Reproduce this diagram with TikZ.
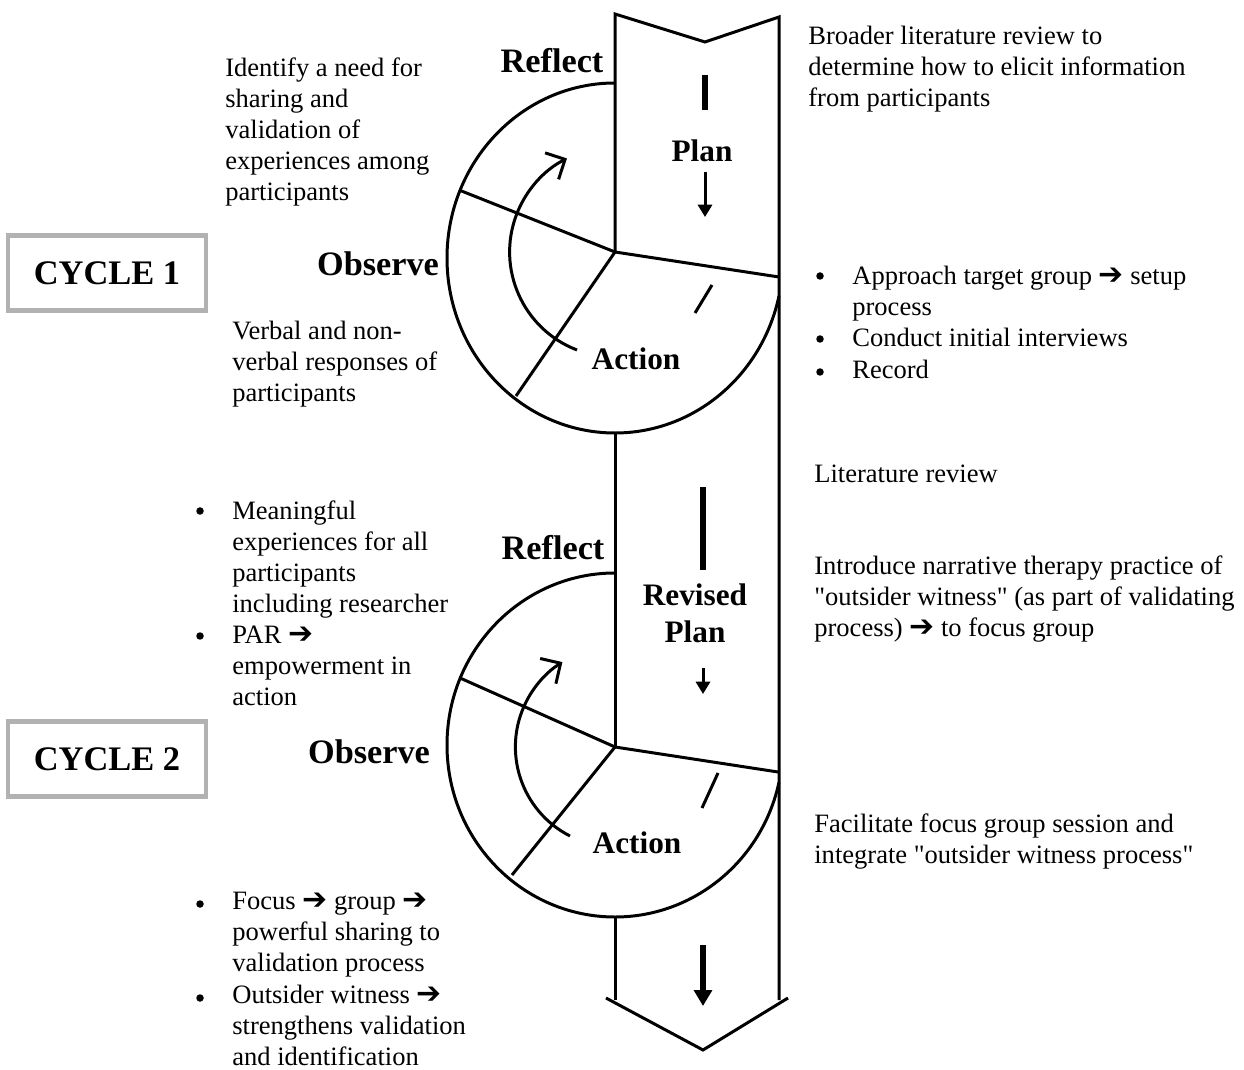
\documentclass[tikz,border=0pt]{standalone}
\usepackage{fontspec}
\setmainfont{Liberation Serif}[Ligatures=TeXOff]
\newfontfamily\symfont{DejaVu Sans}
\newcommand{\rarrow}{{\symfont\fontsize{17}{17}\selectfont\char"2794}}
\usetikzlibrary{arrows.meta}

\begin{document}
\begin{tikzpicture}[x=0.02cm,y=-0.02cm,
	ln/.style={line width=1.7pt},
	stage/.style={font=\bfseries\fontsize{19.5}{22}\selectfont},
	stagein/.style={font=\bfseries\fontsize{17.8}{21}\selectfont, align=center},
	notetext/.style={anchor=north west, inner sep=0pt, align=left, font=\fontsize{15.1}{17.7}\selectfont},
	bul/.style={circle, fill, inner sep=0pt, minimum size=0.15cm},
	cyclebox/.style={draw=gray!60, line width=2.6pt, minimum width=3.96cm, minimum height=1.5cm, font=\bfseries\fontsize{19.6}{24}\selectfont}]
	\useasboundingbox (0,0) rectangle (1244,1070);

	% hubs of the two cycles
	\coordinate (h1) at (615,252);
	\coordinate (h2) at (615,747);

	% column
	\draw[ln] (h1) -- (615,14) -- (705,42) -- (779,17) -- (779,1000);
	\draw[ln] (615,433) -- (h2);
	\draw[ln] (615,917) -- (615,1000);
	\draw[ln] (606,998) -- (703,1050) -- (788,998);

	% cycle 1
	\draw[ln] (615,83) arc[start angle=270, end angle=12.5, x radius=168, y radius=175];
	\draw[ln] (h1) -- (459,190);
	\draw[ln] (h1) -- (779,277);
	\draw[ln] (h1) -- (516,396);
	\draw[ln, -{Straight Barb[angle=90:0.42cm]}] (577,350) arc[start angle=111, end angle=243, radius=105];
	\draw[ln] (712,285) -- (695,313);

	% cycle 2
	\draw[ln] (615,573) arc[start angle=270, end angle=12.5, x radius=168, y radius=172];
	\draw[ln] (h2) -- (460,678);
	\draw[ln] (h2) -- (778,772);
	\draw[ln] (h2) -- (512,875);
	\draw[ln, -{Straight Barb[angle=90:0.42cm]}] (570,836) arc[start angle=117, end angle=238, radius=100];
	\draw[ln] (718,773) -- (702,808);

	% arrows in the column
	\draw[line width=3.4pt] (705,75) -- (705,110);
	\draw[ln, -{Triangle[length=7pt,width=8pt]}] (705,172) -- (705,217);
	\draw[line width=3.4pt] (703,487) -- (703,570);
	\draw[ln, -{Triangle[length=7pt,width=8pt]}] (703,668) -- (703,694);
	\draw[line width=3pt, -{Triangle[length=9pt,width=10pt]}] (703,945) -- (703,1006);

	% stage labels
	\node[stage] (refl1) at (552,61) {Reflect};
	\node[stagein] (plan1) at (702,151) {Plan};
	\node[stage] (obs1) at (378,264) {Observe};
	\node[stagein] (act1) at (636,359) {Action};
	\node[stage] (refl2) at (553,548) {Reflect};
	\node[stagein] (plan2) at (695,613) {Revised\\Plan};
	\node[stage] (obs2) at (369,752) {Observe};
	\node[stagein] (act2) at (637,843) {Action};

	% cycle boxes
	\node[cyclebox] (cyc1) at (107,273) {CYCLE 1};
	\node[cyclebox] (cyc2) at (107,759) {CYCLE 2};

	% notes left
	\node[notetext] (needtxt) at (225,57) {Identify a need for\\sharing and\\validation of\\experiences among\\participants};
	\node[notetext] (verbtxt) at (232,321) {Verbal and non-\\verbal responses of\\participants};
	\node[notetext] (meantxt) at (232,500) {Meaningful\\experiences for all\\participants\\including researcher\\PAR \rarrow\\empowerment in\\action};
	\node[notetext] (focustxt) at (232,892) {Focus \rarrow{} group \rarrow\\powerful sharing to\\validation process\\Outsider witness \rarrow\\strengthens validation\\and identification};
	\node[bul] (bm) at (200,511) {};
	\node[bul] (bp) at (200,636) {};
	\node[bul] (bf) at (200,904) {};
	\node[bul] (bo) at (200,998) {};

	% notes right
	\node[notetext] (broadtxt) at (808,26) {Broader literature review to\\determine how to elicit information\\from participants};
	\node[notetext] (approtxt) at (852,266) {Approach target group \rarrow{} setup\\process\\Conduct initial interviews\\Record};
	\node[bul] (ba) at (820,276) {};
	\node[bul] (bc) at (820,339) {};
	\node[bul] (br) at (820,372) {};
	\node[notetext] (littxt) at (814,465) {Literature review};
	\node[notetext] (introtxt) at (814,555) {Introduce narrative therapy practice of\\"outsider witness" (as part of validating\\process) \rarrow{} to focus group};
	\node[notetext] (factxt) at (814,813) {Facilitate focus group session and\\integrate "outsider witness process"};
\end{tikzpicture}
\end{document}
